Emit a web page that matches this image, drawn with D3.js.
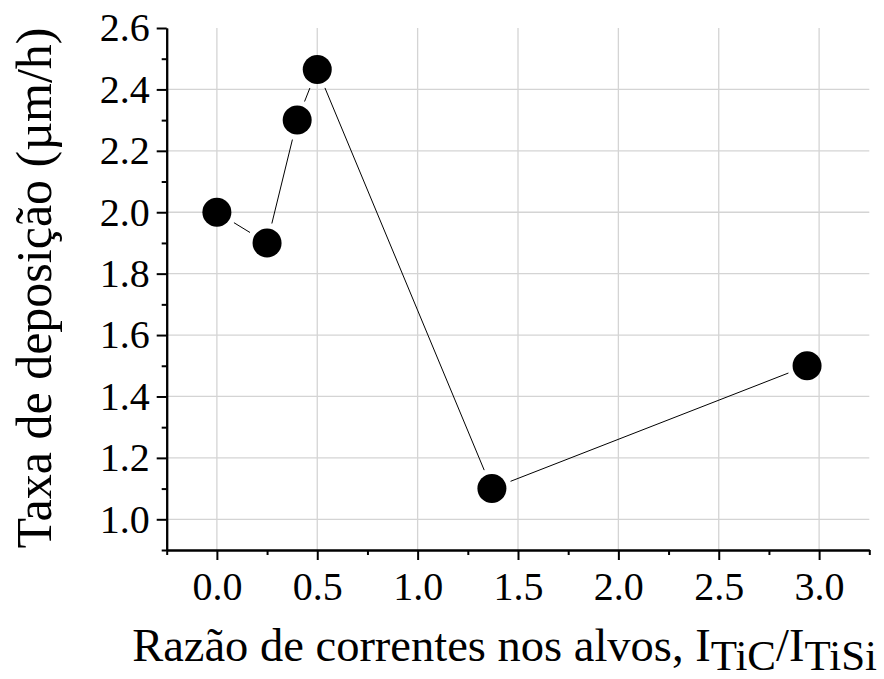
<!DOCTYPE html>
<html>
<head>
<meta charset="utf-8">
<script src="https://cdn.jsdelivr.net/npm/d3@7"></script>
<style>
  body { margin: 0; background: #fff; }
</style>
</head>
<body>
<div id="root"></div>
<script>
// data
const ratio = [0.0, 0.25, 0.4, 0.5, 1.37, 2.94];
const rate = [2.0, 1.9, 2.3, 2.465, 1.1, 1.5];
const xTicks = [0.0, 0.5, 1.0, 1.5, 2.0, 2.5, 3.0];
const xMinor = [-0.25, 0.25, 0.75, 1.25, 1.75, 2.25, 2.75, 3.25];
const yTicks = [1.0, 1.2, 1.4, 1.6, 1.8, 2.0, 2.2, 2.4, 2.6];
const yMinor = [0.9, 1.1, 1.3, 1.5, 1.7, 1.9, 2.1, 2.3, 2.5];

const W = 884, H = 679;
const plotL = 166.7, plotR = 869.3, plotT = 28, plotB = 550;
const FONT = '"Liberation Serif"';

const svg = d3.select('#root').append('svg')
  .attr('width', W)
  .attr('height', H)
  .style('font-family', FONT)

const x = d3.scaleLinear().domain([-0.25, 3.25]).range([plotL, plotR])
const y = d3.scaleLinear().domain([0.9, 2.6]).range([plotB, plotT])

// grid
svg.append('g').selectAll('line')
  .data(xTicks)
  .join('line')
  .attr('x1', d => x(d)).attr('x2', d => x(d))
  .attr('y1', plotT).attr('y2', plotB)
  .attr('stroke', '#d4d4d4')
  .attr('stroke-width', 1.3)

svg.append('g').selectAll('line')
  .data(yTicks.filter(d => d < 2.6))
  .join('line')
  .attr('x1', plotL).attr('x2', plotR)
  .attr('y1', d => y(d)).attr('y2', d => y(d))
  .attr('stroke', '#d4d4d4')
  .attr('stroke-width', 1.3)

// connecting line, trimmed near each marker
const pts = ratio.map((r, i) => [x(r), y(rate[i])])
const gap = 20
const segs = svg.append('g')
for (let i = 0; i < pts.length - 1; i++) {
  const [x0, y0] = pts[i], [x1, y1] = pts[i + 1]
  const len = Math.hypot(x1 - x0, y1 - y0)
  const ux = (x1 - x0) / len, uy = (y1 - y0) / len
  segs.append('line')
    .attr('x1', x0 + ux * gap).attr('y1', y0 + uy * gap)
    .attr('x2', x1 - ux * gap).attr('y2', y1 - uy * gap)
    .attr('stroke', '#000')
    .attr('stroke-width', 1)
}

// axes
const fmt = d3.format('.1f')
svg.append('g')
  .attr('transform', `translate(0,${plotB})`)
  .call(d3.axisBottom(x).tickValues(xTicks).tickFormat(fmt).tickSize(10).tickSizeOuter(0).tickPadding(12))
svg.append('g')
  .attr('transform', `translate(0,${plotB})`)
  .call(d3.axisBottom(x).tickValues(xMinor).tickFormat('').tickSize(5).tickSizeOuter(0))

svg.append('g')
  .attr('transform', `translate(${plotL},0)`)
  .call(d3.axisLeft(y).tickValues(yTicks).tickFormat(fmt).tickSize(10).tickSizeOuter(0).tickPadding(7))
svg.append('g')
  .attr('transform', `translate(${plotL},0)`)
  .call(d3.axisLeft(y).tickValues(yMinor).tickFormat('').tickSize(5).tickSizeOuter(0))

svg.selectAll('g').attr('font-family', null).attr('font-size', null)
svg.selectAll('.domain, .tick line')
  .attr('stroke', '#000')
  .attr('stroke-width', 2)
svg.selectAll('.tick text')
  .style('font-family', FONT)
  .style('font-size', '40px')
  .attr('fill', '#000')

// markers
svg.append('g').selectAll('circle')
  .data(ratio)
  .join('circle')
  .attr('cx', d => x(d))
  .attr('cy', (d, i) => y(rate[i]))
  .attr('r', 14.5)
  .attr('fill', '#000')

// titles
const xt = svg.append('text')
  .attr('x', 877)
  .attr('y', 661)
  .attr('text-anchor', 'end')
  .style('font-family', FONT)
  .style('font-size', '46.5px')
xt.append('tspan').text('Razão de correntes nos alvos, I')
xt.append('tspan').attr('dy', 9).style('font-size', '43px').text('TiC')
xt.append('tspan').attr('dy', -9).text('/I')
xt.append('tspan').attr('dy', 9).style('font-size', '43px').text('TiSi')

svg.append('text')
  .attr('transform', 'translate(51,288) rotate(-90)')
  .attr('text-anchor', 'middle')
  .style('font-family', FONT)
  .style('font-size', '50px')
  .text('Taxa de deposição (µm/h)')
</script>
</body>
</html>
